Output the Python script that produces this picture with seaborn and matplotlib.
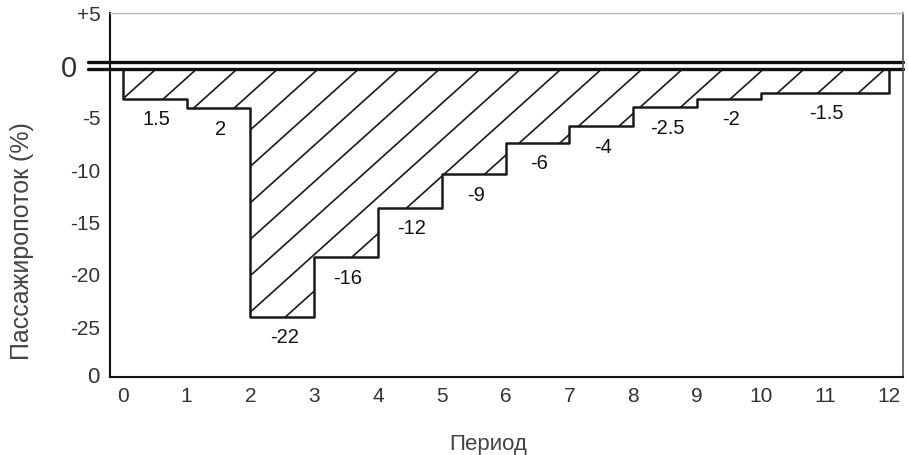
import matplotlib.pyplot as plt
import matplotlib.transforms as mtransforms
import numpy as np
import pandas as pd
import seaborn as sns

# Set style
sns.set_style("white")
plt.rcParams['font.family'] = ['Liberation Sans', 'DejaVu Sans']

# Step boundaries (the last step covers periods 10-12)
period_start = [0, 1, 2, 3, 4, 5, 6, 7, 8, 9, 10]
period_end = [1, 2, 3, 4, 5, 6, 7, 8, 9, 10, 12]
# Depth of each step as drawn against the y axis (%)
flow_level = [-3.2, -4.1, -24.0, -18.3, -13.6, -10.4, -7.4, -5.8, -4.0, -3.2, -2.6]
# Values printed under each step
step_labels = ['1.5', '2', '-22', '-16', '-12', '-9', '-6', '-4', '-2.5', '-2', '-1.5']

x_ticks = list(range(13))
y_ticks = [5, 0, -5, -10, -15, -20, -25]
y_tick_labels = ['+5', '0', '-5', '-10', '-15', '-20', '-25']

BASE = -0.29  # lower edge of the double zero line

fig, ax = plt.subplots(figsize=(9.09, 4.55), dpi=100)
fig.subplots_adjust(left=0.121, right=0.993, top=0.971, bottom=0.171)
ax.set_xlim(-0.2, 12.22)
ax.set_ylim(-29.77, 4.96)

# outline of the stairs
outline = pd.DataFrame({
    'Период': [period_start[0]] + period_start + [period_end[-1], period_end[-1]],
    'Поток': [BASE] + flow_level + [flow_level[-1], BASE],
})
sns.lineplot(data=outline, x='Период', y='Поток', estimator=None, sort=False,
             drawstyle='steps-post', color='#1a1a1a', lw=1.8, ax=ax)

# filled area used as clip region for the hatching
poly = ax.fill_between(period_start + [period_end[-1]], flow_level + [flow_level[-1]], BASE,
                       step='post', facecolor='white', edgecolor='none', zorder=0)
clip = poly.get_paths()[0]

# sparse diagonal hatch (built-in hatches are too dense)
x0, y0 = ax.transData.transform((0, 0))
sx = ax.transData.transform((1, 0))[0] - x0
sy = y0 - ax.transData.transform((0, -1))[1]
spacing = 40.5 / sx
depth = min(flow_level) - 1
run = (BASE - depth) * sy / np.tan(np.radians(42)) / sx
for xt in np.arange(0.53 - 3 * spacing, 12.5 + run, spacing):
    ln, = ax.plot([xt, xt - run], [BASE, depth], color='#1a1a1a', lw=1.2)
    ln.set_clip_path(clip, ax.transData)

# value labels under the steps
for s, e, lvl, lab in zip(period_start, period_end, flow_level, step_labels):
    ax.text((s + e) / 2 + 0.03, lvl - 2.0, lab, ha='center', va='center',
            fontsize=14.5, color='#111111')

# double zero line
ax.axhline(0.38, xmin=-0.028, xmax=1, color='#111111', lw=2.4, clip_on=False)
ax.axhline(BASE, xmin=-0.028, xmax=1, color='#111111', lw=2.4, clip_on=False)

ax.set_xticks(x_ticks)
ax.set_xticklabels([str(t) for t in x_ticks])
ax.set_yticks(y_ticks)
ax.set_yticklabels(y_tick_labels)
ax.tick_params(axis='x', direction='in', length=6, width=1.2, color='#222222',
               pad=7, labelsize=15, labelcolor='#333333')
ax.tick_params(axis='y', length=0, pad=7, labelsize=15, labelcolor='#333333')

# the zero label is larger and sits left of the extended zero line
zero_lab = ax.get_yticklabels()[1]
zero_lab.set_fontsize(21)
zero_lab.set_transform(zero_lab.get_transform() +
                       mtransforms.ScaledTranslation(-0.23, 0, fig.dpi_scale_trans))

ax.text(-0.013, 0, '0', transform=ax.transAxes, ha='right', va='center',
        fontsize=16, color='#333333')

ax.set_xlabel('Период', fontsize=16, color='#444444', va='top')
ax.xaxis.set_label_coords(0.477, -0.155)
ax.set_ylabel('Пассажиропоток (%)', fontsize=18, color='#444444', va='center')
ax.yaxis.set_label_coords(-0.111, 0.374)

for side in ['left', 'bottom']:
    ax.spines[side].set_color('#111111')
    ax.spines[side].set_linewidth(1.5)
ax.spines['top'].set_color('#bbbbbb')
ax.spines['top'].set_linewidth(1.0)
ax.spines['right'].set_color('#555555')
ax.spines['right'].set_linewidth(1.2)

plt.savefig('out.png', dpi=100)
